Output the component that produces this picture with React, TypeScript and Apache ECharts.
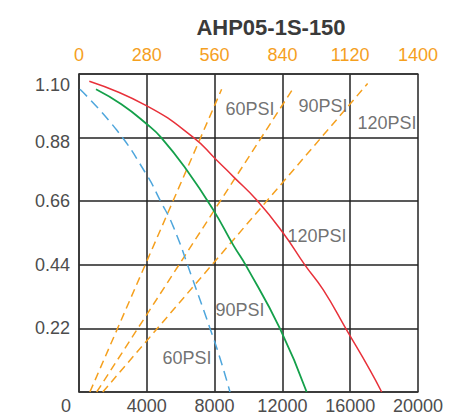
import React, { useEffect, useRef } from "react";
import * as echarts from "echarts";

const title = "AHP05-1S-150";
const bottomTicks = { min: 0, max: 20000, interval: 4000 };
const topTicks = { min: 0, max: 1400, interval: 280 };
const yTicks = { min: 0, max: 1.1, interval: 0.22 };

// Flow curves (bottom axis)
const curve120: number[][] = [
  [608, 1.075], [4000, 0.99], [6743, 0.881], [8024, 0.808], [9103, 0.745],
  [10484, 0.664], [12055, 0.549], [13333, 0.439], [14413, 0.353],
  [15794, 0.214], [17168, 0.076], [17857, 0],
];
const curve90: number[][] = [
  [1003, 1.047], [2500, 0.995], [3994, 0.927], [4838, 0.881], [6354, 0.768],
  [7923, 0.63], [9103, 0.508], [9894, 0.433], [11858, 0.219], [13432, 0],
];
const curve60: number[][] = [
  [59, 1.047], [2224, 0.906], [3994, 0.751], [4779, 0.664], [5563, 0.572],
  [6649, 0.399], [7729, 0.22], [8319, 0.117], [8909, 0],
];
// Air consumption lines (top axis)
const air60: number[][] = [[45, 0], [589, 1.047]];
const air90: number[][] = [[73, 0], [882, 1.047]];
const air120: number[][] = [[98, 0], [1192, 1.067]];

// Curve labels (bottom axis units)
const curveLabels: [number, number, string][] = [
  [10088, 0.979, "60PSI"],
  [14395, 0.989, "90PSI"],
  [18171, 0.93, "120PSI"],
  [14041, 0.54, "120PSI"],
  [9499, 0.284, "90PSI"],
  [6372, 0.118, "60PSI"],
];

const RED = "#e8313a";
const GREEN = "#14a04a";
const BLUE = "#4ea6dc";
const ORANGE = "#f5a01e";
const TEXT = "#4d4d4d";
const FONT = "'Liberation Sans', Arial, sans-serif";

export default function App() {
  const ref = useRef<HTMLDivElement>(null);
  useEffect(() => {
    document.body.style.margin = "0";
    const chart = echarts.init(ref.current!, undefined, { renderer: "svg" });
    const orangeLine = (data: number[][]) => ({
      type: "line",
      xAxisIndex: 1,
      data,
      showSymbol: false,
      lineStyle: { color: ORANGE, width: 1.5, type: [8, 5] },
      z: 3,
    });
    const yRich = {
      n: { fontFamily: FONT, fontSize: 18, color: TEXT },
      a: { fontFamily: FONT, fontSize: 18, color: TEXT, padding: [22, 0, 0, 0] },
      b: { fontFamily: FONT, fontSize: 18, color: TEXT, padding: [8, 0, 0, 0] },
    };
    chart.setOption({
      animation: false,
      title: {
        text: title,
        left: 266,
        textAlign: "center",
        top: 11,
        textStyle: { fontFamily: FONT, fontSize: 22, fontWeight: "bold", color: "#3a3a3a" },
      },
      grid: { left: 79, right: 43, top: 74, bottom: 25 },
      xAxis: [
        {
          type: "value",
          position: "bottom",
          ...bottomTicks,
          axisLine: { show: true, lineStyle: { color: "#333", width: 1.5 } },
          axisTick: { show: false },
          splitLine: { show: true, lineStyle: { color: "#222", width: 1.5 } },
          axisLabel: {
            fontFamily: FONT,
            fontSize: 18,
            color: TEXT,
            margin: 5,
            formatter: (v: number) => (v === 0 ? "" : String(v)),
          },
        },
        {
          type: "value",
          position: "top",
          ...topTicks,
          axisLine: { show: true, lineStyle: { color: "#333", width: 1.5 } },
          axisTick: { show: false },
          splitLine: { show: false },
          axisLabel: {
            fontFamily: FONT,
            fontSize: 18,
            color: ORANGE,
            margin: 10,
            formatter: (v: number) => String(v),
          },
        },
      ],
      yAxis: {
        type: "value",
        ...yTicks,
        axisLine: { show: true, lineStyle: { color: "#333", width: 1.5 } },
        axisTick: { show: false },
        splitLine: { show: true, lineStyle: { color: "#222", width: 1.5 } },
        axisLabel: {
          margin: 9,
          rich: yRich,
          formatter: (v: number) => {
            if (v === 0) return "";
            const s = v.toFixed(2);
            if (s === "1.10") return `{a|${s}}`;
            if (s === "0.88") return `{b|${s}}`;
            return `{n|${s}}`;
          },
        },
      },
      graphic: [
        {
          type: "text",
          left: 61,
          top: 397,
          style: { text: "0", font: `18px ${FONT}`, fill: TEXT },
        },
      ],
      series: [
        {
          type: "line",
          data: curve120,
          smooth: true,
          showSymbol: false,
          lineStyle: { color: RED, width: 1.5 },
          z: 4,
        },
        {
          type: "line",
          data: curve90,
          smooth: true,
          showSymbol: false,
          lineStyle: { color: GREEN, width: 1.8 },
          z: 4,
        },
        {
          type: "line",
          data: curve60,
          smooth: true,
          showSymbol: false,
          lineStyle: { color: BLUE, width: 1.5, type: [10, 6] },
          z: 4,
        },
        orangeLine(air60),
        orangeLine(air90),
        orangeLine(air120),
        {
          type: "scatter",
          data: curveLabels.map((d) => ({ value: [d[0], d[1]], name: d[2] })),
          symbolSize: 0,
          silent: true,
          z: 5,
          label: {
            show: true,
            position: "inside",
            formatter: (p: any) => p.name,
            fontFamily: FONT,
            fontSize: 18,
            color: TEXT,
          },
        },
      ],
    });
    return () => chart.dispose();
  }, []);
  return <div ref={ref} style={{ width: 461, height: 417 }} />;
}
